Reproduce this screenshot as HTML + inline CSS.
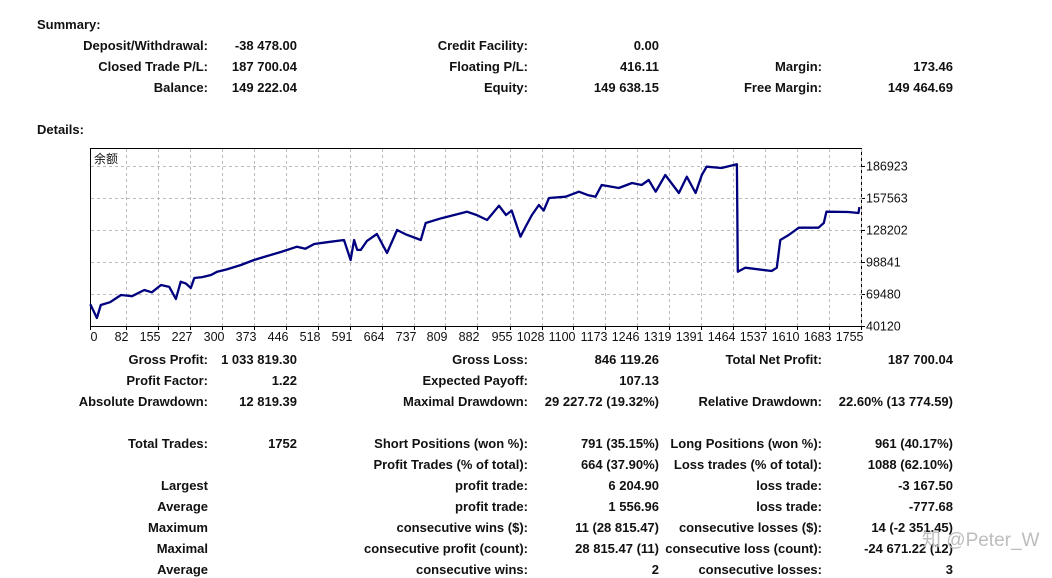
<!DOCTYPE html>
<html><head><meta charset="utf-8"><style>
body{margin:0;width:1052px;height:578px;background:#fff;overflow:hidden;position:relative;font-family:"Liberation Sans","Noto Sans CJK SC",sans-serif;}
.t{position:absolute;font-weight:bold;font-size:13px;line-height:16px;white-space:nowrap;color:#111;text-align:right;}
.h{position:absolute;font-weight:bold;font-size:13px;line-height:16px;color:#111;}
svg{position:absolute;left:0;top:0;}
</style></head><body>
<div class="h" style="left:37px;top:17px">Summary:</div>
<div class="h" style="left:37px;top:122px">Details:</div>
<div id="rows"></div>
<svg id="chart" width="1052" height="578"></svg>
<div style="position:absolute;left:922px;top:530px;font-size:19px;line-height:22px;white-space:nowrap;color:#bdbdbd;font-family:'Liberation Sans','Noto Sans CJK SC',sans-serif">知 @Peter_W</div>
<script>
const rowsData=[
[46,"Deposit/Withdrawal:","-38 478.00","Credit Facility:","0.00","",""],
[67,"Closed Trade P/L:","187 700.04","Floating P/L:","416.11","Margin:","173.46"],
[88,"Balance:","149 222.04","Equity:","149 638.15","Free Margin:","149 464.69"],
[360,"Gross Profit:","1 033 819.30","Gross Loss:","846 119.26","Total Net Profit:","187 700.04"],
[381,"Profit Factor:","1.22","Expected Payoff:","107.13","",""],
[402,"Absolute Drawdown:","12 819.39","Maximal Drawdown:","29 227.72 (19.32%)","Relative Drawdown:","22.60% (13 774.59)"],
[444,"Total Trades:","1752","Short Positions (won %):","791 (35.15%)","Long Positions (won %):","961 (40.17%)"],
[465,"","","Profit Trades (% of total):","664 (37.90%)","Loss trades (% of total):","1088 (62.10%)"],
[486,"Largest","","profit trade:","6 204.90","loss trade:","-3 167.50"],
[507,"Average","","profit trade:","1 556.96","loss trade:","-777.68"],
[528,"Maximum","","consecutive wins ($):","11 (28 815.47)","consecutive losses ($):","14 (-2 351.45)"],
[549,"Maximal","","consecutive profit (count):","28 815.47 (11)","consecutive loss (count):","-24 671.22 (12)"],
[570,"Average","","consecutive wins:","2","consecutive losses:","3"]];
const rights=[844,755,524,393,230,99];
const rc=document.getElementById('rows');
rowsData.forEach((r,ri)=>{for(let c=1;c<7;c++){if(!r[c])continue;const d=document.createElement('div');d.className='t';d.style.top=(r[0]-8)+'px';d.style.right=rights[c-1]+'px';d.textContent=r[c];


rc.appendChild(d);}});

const tradeIdx=[0,15,24,45,70,95,123,140,161,180,195,206,218,229,237,255,275,289,310,343,373,400,434,471,490,510,540,578,593,601,608,616,630,653,676,699,720,753,764,800,858,880,904,931,947,960,980,990,1006,1022,1033,1045,1083,1113,1135,1151,1165,1204,1234,1256,1272,1288,1310,1341,1359,1379,1393,1404,1438,1473,1475,1492,1552,1564,1572,1591,1614,1659,1671,1677,1727,1750,1752];
const balance=[60030,47460,59390,62000,68560,67500,73150,71000,77740,76000,64890,80770,79000,74980,84160,85000,86910,89940,92000,96090,100680,104000,108020,112880,111000,115360,117000,119030,100680,119030,110000,109850,118000,124530,107100,128200,124000,119030,134620,139000,144990,142000,137380,150500,141960,146000,122050,130000,141960,151140,146050,157560,158750,163340,160000,158750,169490,166740,171320,169490,174080,163340,178660,162150,177100,162150,178660,186280,185090,188480,89940,93610,90580,93610,119030,123610,130310,130310,134620,144990,144720,143800,149222];
const yTicks=[40120,69480,98841,128202,157563,186923];
const xTicks=[0,82,155,227,300,373,446,518,591,664,737,809,882,955,1028,1100,1173,1246,1319,1391,1464,1537,1610,1683,1755];
const X=i=>90.3+i*32/72.9, Y=v=>326-(v-40120)/29360*32;
const svg=document.getElementById('chart'),NS='http://www.w3.org/2000/svg';
function mk(t,a){const e=document.createElementNS(NS,t);for(const k in a)e.setAttribute(k,a[k]);svg.appendChild(e);return e;}
const fr=mk('rect',{x:90.5,y:148.5,width:771,height:178,fill:'#fff',stroke:'#000','stroke-width':1});


yTicks.forEach(v=>{const y=Math.round(Y(v))+0.5;
if(v!==40120){const g=mk('line',{x1:91,x2:861,y1:y,y2:y,stroke:'#bbb','stroke-dasharray':'3,3'});}
mk('line',{x1:861,x2:865,y1:y,y2:y,stroke:'#000'});
const t=mk('text',{x:866,y:y+4,'font-size':12.5,'font-family':'Liberation Sans, sans-serif',fill:'#111'});t.textContent=v;

});
xTicks.forEach((v,k)=>{const x=Math.round(X(v))+0.5;
if(k>0){const g=mk('line',{x1:x,x2:x,y1:149,y2:326,stroke:'#bbb','stroke-dasharray':'3,3'});}
mk('line',{x1:x,x2:x,y1:326,y2:330,stroke:'#000'});
const t=mk('text',{x:k?x+2:x,y:341,'text-anchor':k?'end':'start','font-size':12.5,'font-family':'Liberation Sans, sans-serif',fill:'#111'});t.textContent=v;

});
const lbl=mk('text',{x:94,y:163,'font-size':12,'font-family':'Noto Sans CJK SC, sans-serif',fill:'#111'});lbl.textContent='余额';


const pl=mk('polyline',{points:tradeIdx.map((t,i)=>X(t).toFixed(1)+','+Y(balance[i]).toFixed(1)).join(' '),fill:'none',stroke:'#00007f','stroke-width':2.3,'stroke-linejoin':'round'});


</script>
</body></html>
